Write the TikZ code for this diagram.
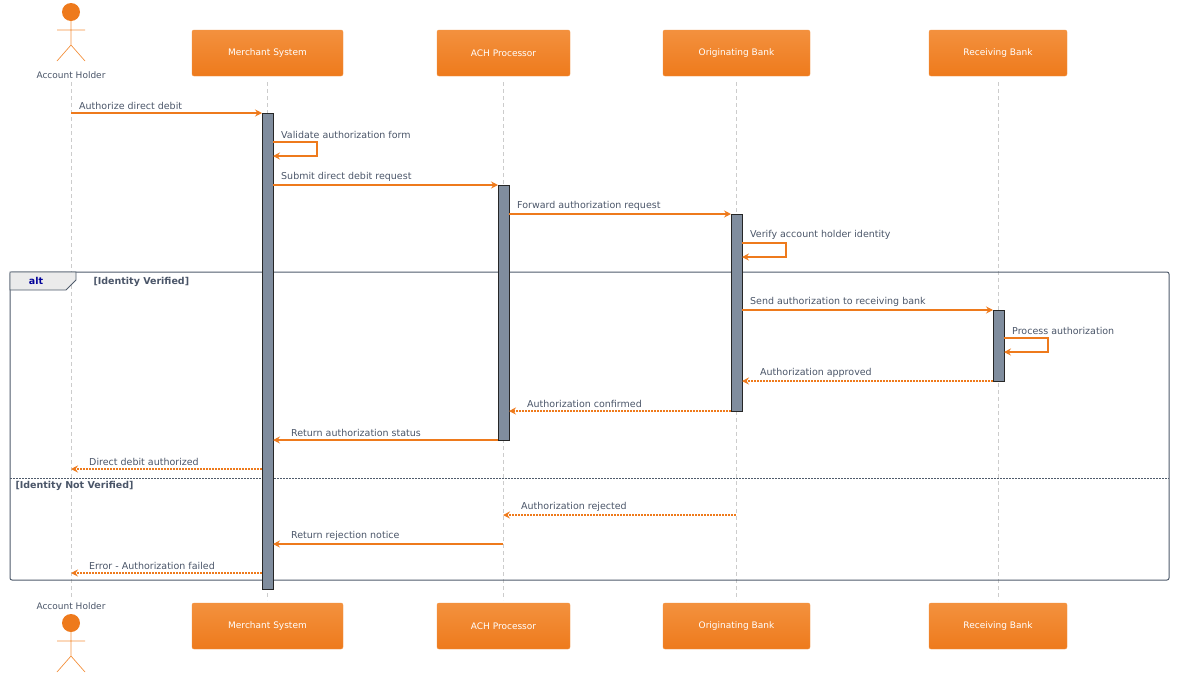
\documentclass[tikz,border=0pt]{standalone}
\usepackage{fontspec}
\setmainfont{DejaVu Sans}
\usetikzlibrary{arrows.meta,positioning}
\definecolor{accent}{HTML}{EE7A1C}
\definecolor{accentlight}{HTML}{F3913E}
\definecolor{txt}{HTML}{4A5568}
\definecolor{actbar}{HTML}{808D9E}
\definecolor{framec}{HTML}{4F5B6B}
\tikzset{
  party/.style={draw=accentlight, rounded corners=2pt, top color=accentlight, bottom color=accent,
    text=white, minimum height=46pt, inner sep=0pt, font=\fontsize{9}{11}\selectfont},
  life/.style={draw=black!20, dashed, dash pattern=on 4pt off 3pt, line width=0.6pt},
  act/.style={draw=black!85, fill=actbar, line width=0.6pt},
  msg/.style={draw=accent, line width=1.6pt, -{Stealth[length=7pt,width=7pt,inset=2.5pt]}},
  reply/.style={msg, dash pattern=on 2pt off 1pt},
  lbl/.style={text=txt, font=\fontsize{9.5}{11}\selectfont, inner sep=1pt, anchor=south west},
  actorline/.style={draw=accentlight, line width=0.7pt},
}
\newcommand{\actor}[2]{% x, top of head
  \fill[accent] (#1,#2+9) circle (9);
  \draw[actorline] (#1,#2+18) -- (#1,#2+42) (#1-14,#2+27) -- (#1+14,#2+27)
    (#1-14,#2+58) -- (#1,#2+42) -- (#1+14,#2+58);
}
\begin{document}
\begin{tikzpicture}[x=1pt,y=-1pt]
\useasboundingbox (0,0) rectangle (1184,681);

% lifelines
\foreach \x in {71,267,503,736,998} \draw[life] (\x,82) -- (\x,600);

% participants
\actor{71}{3}
\node[text=txt, font=\fontsize{9}{11}\selectfont] (holder) at (71,75) {Account Holder};
\node[party, minimum width=151pt] (merchant) at (267.5,53) {Merchant System};
\node[party, minimum width=133pt] (ach) at (503.5,53) {ACH Processor};
\node[party, minimum width=147pt] (orig) at (736.5,53) {Originating Bank};
\node[party, minimum width=138pt] (recv) at (998,53) {Receiving Bank};

\node[text=txt, font=\fontsize{9}{11}\selectfont] (holderB) at (71,606) {Account Holder};
\actor{71}{614}
\node[party, minimum width=151pt] (merchantB) at (267.5,626) {Merchant System};
\node[party, minimum width=133pt] (achB) at (503.5,626) {ACH Processor};
\node[party, minimum width=147pt] (origB) at (736.5,626) {Originating Bank};
\node[party, minimum width=138pt] (recvB) at (998,626) {Receiving Bank};

% alt frame
\draw[framec, line width=1pt, rounded corners=2pt] (10,272) rectangle (1169,580);
\draw[framec, line width=0.8pt, fill=black!8] (10,272) -- (76,272) -- (76,280) -- (66,290) -- (10,290) -- cycle;
\node[text=blue!60!black, font=\bfseries\fontsize{9.5}{11}\selectfont] (altlbl) at (36,281) {alt};
\node[text=txt, font=\bfseries\fontsize{9.5}{11}\selectfont, anchor=west] (guard1) at (90,282) {[Identity Verified]};
\draw[framec, line width=0.6pt, dash pattern=on 1.5pt off 1.5pt] (10,478) -- (1169,478);
\node[text=txt, font=\bfseries\fontsize{9.5}{11}\selectfont, anchor=west] (guard2) at (12,486) {[Identity Not Verified]};

% activations
\draw[act] (262,113) rectangle (273,589);
\draw[act] (498,185) rectangle (509,440);
\draw[act] (731,214) rectangle (742,411);
\draw[act] (993,310) rectangle (1004,381);

% messages
\draw[msg] (71,113) -- (262,113);
\node[lbl] at (78,111) {Authorize direct debit};
\draw[msg] (273,142) -- (317,142) -- (317,156) -- (273,156);
\node[lbl] at (280,140) {Validate authorization form};
\draw[msg] (273,185) -- (498,185);
\node[lbl] at (280,183) {Submit direct debit request};
\draw[msg] (509,214) -- (731,214);
\node[lbl] at (516,212) {Forward authorization request};
\draw[msg] (742,243) -- (786,243) -- (786,257) -- (742,257);
\node[lbl] at (749,241) {Verify account holder identity};
\draw[msg] (742,310) -- (993,310);
\node[lbl] at (749,308) {Send authorization to receiving bank};
\draw[msg] (1004,338) -- (1048,338) -- (1048,352) -- (1004,352);
\node[lbl] at (1011,336) {Process authorization};
\draw[reply] (993,381) -- (742,381);
\node[lbl] at (759,379) {Authorization approved};
\draw[reply] (731,411) -- (509,411);
\node[lbl] at (526,409) {Authorization confirmed};
\draw[msg] (498,440) -- (273,440);
\node[lbl] at (290,438) {Return authorization status};
\draw[reply] (262,469) -- (71,469);
\node[lbl] at (88,467) {Direct debit authorized};
\draw[reply] (736,515) -- (503,515);
\node[lbl] at (520,513) {Authorization rejected};
\draw[msg] (503,544) -- (273,544);
\node[lbl] at (290,542) {Return rejection notice};
\draw[reply] (262,573) -- (71,573);
\node[lbl] at (88,571) {Error - Authorization failed};
\end{tikzpicture}
\end{document}
